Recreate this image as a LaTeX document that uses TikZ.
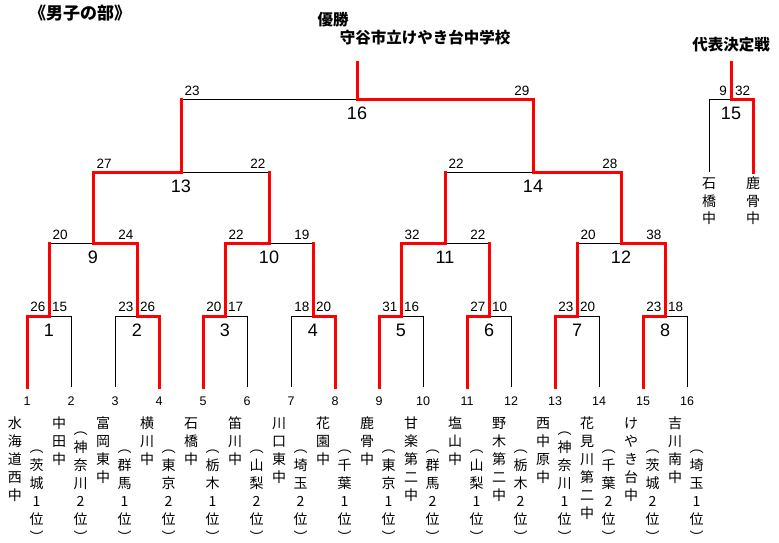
\documentclass[tikz,border=0pt]{standalone}
\usepackage{fontspec}
\newfontfamily\jp{Noto Sans CJK JP}
\newfontfamily\numf{Liberation Sans}
\begin{document}
\begin{tikzpicture}[x=1pt,y=-1pt,
  win/.style={draw=red,line width=3pt,line cap=rect},
  lose/.style={draw=black,line width=1pt},
  col/.style={font=\jp\fontsize{14}{18}\selectfont,align=center,anchor=base,inner sep=0pt},
  colb/.style={font=\jp\fontsize{14}{17.5}\selectfont,align=center,anchor=base,inner sep=0pt},
  mnum/.style={font=\numf\fontsize{18}{18}\selectfont,inner sep=0pt},
  sc/.style={font=\numf\fontsize{13.5}{13.5}\selectfont,inner sep=0pt},
  lnum/.style={font=\numf\fontsize{12.5}{12.5}\selectfont,inner sep=0pt},
  hd/.style={font=\jp\bfseries\fontsize{15.5}{15.5}\selectfont,inner sep=0pt}]
\useasboundingbox (0,0) rectangle (779,542);
% leaves
\foreach \i in {1,...,16} {
  \coordinate (L\i) at ({27+44*(\i-1)},387);
  \node[lnum] (n\i) at ({27+44*(\i-1)},401) {\i};
}
% match points
\coordinate (M1) at (49,316);  \coordinate (M2) at (137,316);
\coordinate (M3) at (225,316); \coordinate (M4) at (313,316);
\coordinate (M5) at (401,316); \coordinate (M6) at (489,316);
\coordinate (M7) at (577,316); \coordinate (M8) at (665,316);
\coordinate (M9) at (93,243);  \coordinate (M10) at (269,243);
\coordinate (M11) at (445,243); \coordinate (M12) at (621,243);
\coordinate (M13) at (181,172); \coordinate (M14) at (533,172);
\coordinate (M16) at (357,99);  \coordinate (W) at (357,62);
\coordinate (M15) at (731,99);  \coordinate (R) at (731,62);
\coordinate (A) at (709,172);   \coordinate (B) at (753,172);
% losing lines
\draw[lose] (L2) |- (M1);  \draw[lose] (L3) |- (M2);
\draw[lose] (L6) |- (M3);  \draw[lose] (L7) |- (M4);
\draw[lose] (L10) |- (M5); \draw[lose] (L12) |- (M6);
\draw[lose] (L14) |- (M7); \draw[lose] (L16) |- (M8);
\draw[lose] (M1 |- M9) -- (M9);
\draw[lose] (M4 |- M10) -- (M10);
\draw[lose] (M6 |- M11) -- (M11);
\draw[lose] (M7 |- M12) -- (M12);
\draw[lose] (M10 |- M13) -- (M13);
\draw[lose] (M11 |- M14) -- (M14);
\draw[lose] (M13 |- M16) -- (M16);
\draw[lose] (A) |- (M15);
% winning lines
\draw[win] (L1) |- (M1);  \draw[win] (L4) |- (M2);
\draw[win] (L5) |- (M3);  \draw[win] (L8) |- (M4);
\draw[win] (L9) |- (M5);  \draw[win] (L11) |- (M6);
\draw[win] (L13) |- (M7); \draw[win] (L15) |- (M8);
\draw[win] (M2) |- (M9);  \draw[win] (M1) -- (M1 |- M9);
\draw[win] (M3) |- (M10); \draw[win] (M4) -- (M4 |- M10);
\draw[win] (M5) |- (M11); \draw[win] (M6) -- (M6 |- M11);
\draw[win] (M8) |- (M12); \draw[win] (M7) -- (M7 |- M12);
\draw[win] (M9) |- (M13); \draw[win] (M10) -- (M10 |- M13);
\draw[win] (M12) |- (M14); \draw[win] (M11) -- (M11 |- M14);
\draw[win] (M14) |- (M16); \draw[win] (M13) -- (M13 |- M16);
\draw[win] (M16) -- (W);
\draw[win] (B) |- (M15); \draw[win] (M15) -- (R);
% match numbers
\node[mnum] (m1) at (49,330) {1};   \node[mnum] (m2) at (137,330) {2};
\node[mnum] (m3) at (225,330) {3};  \node[mnum] (m4) at (313,330) {4};
\node[mnum] (m5) at (401,330) {5};  \node[mnum] (m6) at (489,330) {6};
\node[mnum] (m7) at (577,330) {7};  \node[mnum] (m8) at (665,330) {8};
\node[mnum] (m9) at (93,257) {9};   \node[mnum] (m10) at (269,257) {10};
\node[mnum] (m11) at (445,257) {11}; \node[mnum] (m12) at (621,257) {12};
\node[mnum] (m13) at (181,186) {13}; \node[mnum] (m14) at (533,186) {14};
\node[mnum] (m16) at (357,113) {16}; \node[mnum] (m15) at (731,113) {15};
% scores round 1
\node[sc,anchor=east] (s1a) at (45.5,307) {26};  \node[sc,anchor=west] (s1b) at (52,307) {15};
\node[sc,anchor=east] (s2a) at (133.5,307) {23}; \node[sc,anchor=west] (s2b) at (140,307) {26};
\node[sc,anchor=east] (s3a) at (221.5,307) {20}; \node[sc,anchor=west] (s3b) at (228,307) {17};
\node[sc,anchor=east] (s4a) at (309.5,307) {18}; \node[sc,anchor=west] (s4b) at (316,307) {20};
\node[sc,anchor=east] (s5a) at (397.5,307) {31}; \node[sc,anchor=west] (s5b) at (404,307) {16};
\node[sc,anchor=east] (s6a) at (485.5,307) {27}; \node[sc,anchor=west] (s6b) at (492,307) {10};
\node[sc,anchor=east] (s7a) at (573.5,307) {23}; \node[sc,anchor=west] (s7b) at (580,307) {20};
\node[sc,anchor=east] (s8a) at (661.5,307) {23}; \node[sc,anchor=west] (s8b) at (668,307) {18};
% scores round 2
\node[sc,anchor=west] (s9a) at (52.5,234.5) {20};   \node[sc,anchor=east] (s9b) at (133.5,234.5) {24};
\node[sc,anchor=west] (s10a) at (228.5,234.5) {22}; \node[sc,anchor=east] (s10b) at (309.5,234.5) {19};
\node[sc,anchor=west] (s11a) at (404.5,234.5) {32}; \node[sc,anchor=east] (s11b) at (485.5,234.5) {22};
\node[sc,anchor=west] (s12a) at (580.5,234.5) {20}; \node[sc,anchor=east] (s12b) at (661.5,234.5) {38};
% scores round 3
\node[sc,anchor=west] (s13a) at (96.5,163.5) {27};  \node[sc,anchor=east] (s13b) at (265.5,163.5) {22};
\node[sc,anchor=west] (s14a) at (448.5,163.5) {22}; \node[sc,anchor=east] (s14b) at (617.5,163.5) {28};
% final
\node[sc,anchor=west] (s16a) at (184.5,90.5) {23};  \node[sc,anchor=east] (s16b) at (529.5,90.5) {29};
\node[sc,anchor=east] (s15a) at (727,90.5) {9};     \node[sc,anchor=west] (s15b) at (735,90.5) {32};
% headings
\node[font=\jp\bfseries\fontsize{17}{17}\selectfont,inner sep=0pt] (title) at (80,13) {《男子の部》};
\node[hd] (yusho) at (333,20) {優勝};
\node[hd] (champ) at (425,38) {守谷市立けやき台中学校};
\node[hd] (rep) at (731,45) {代表決定戦};
\node[colb] (a1) at (709,223.6) {石\\橋\\中};
\node[colb] (b1) at (753,223.6) {鹿\\骨\\中};
% team names (anchor = baseline of last line)
\node[col] (t1) at (15,500.6) {水\\海\\道\\西\\中};
\node[col] (p1) at (36.5,542) {︵\\茨\\城\\1\\位\\︶};
\node[col] (t2) at (59,464.6) {中\\田\\中};
\node[col] (p2) at (80.5,542) {︵\\神\\奈\\川\\2\\位\\︶};
\node[col] (t3) at (103,482.6) {富\\岡\\東\\中};
\node[col] (p3) at (124.5,542) {︵\\群\\馬\\1\\位\\︶};
\node[col] (t4) at (147,464.6) {横\\川\\中};
\node[col] (p4) at (168.5,542) {︵\\東\\京\\2\\位\\︶};
\node[col] (t5) at (191,464.6) {石\\橋\\中};
\node[col] (p5) at (212.5,542) {︵\\栃\\木\\1\\位\\︶};
\node[col] (t6) at (235,464.6) {笛\\川\\中};
\node[col] (p6) at (256.5,542) {︵\\山\\梨\\2\\位\\︶};
\node[col] (t7) at (279,482.6) {川\\口\\東\\中};
\node[col] (p7) at (300.5,542) {︵\\埼\\玉\\2\\位\\︶};
\node[col] (t8) at (323,464.6) {花\\園\\中};
\node[col] (p8) at (344.5,542) {︵\\千\\葉\\1\\位\\︶};
\node[col] (t9) at (367,464.6) {鹿\\骨\\中};
\node[col] (p9) at (388.5,542) {︵\\東\\京\\1\\位\\︶};
\node[col] (t10) at (411,500.6) {甘\\楽\\第\\二\\中};
\node[col] (p10) at (432.5,542) {︵\\群\\馬\\2\\位\\︶};
\node[col] (t11) at (455,464.6) {塩\\山\\中};
\node[col] (p11) at (476.5,542) {︵\\山\\梨\\1\\位\\︶};
\node[col] (t12) at (499,500.6) {野\\木\\第\\二\\中};
\node[col] (p12) at (520.5,542) {︵\\栃\\木\\2\\位\\︶};
\node[col] (t13) at (543,482.6) {西\\中\\原\\中};
\node[col] (p13) at (564.5,542) {︵\\神\\奈\\川\\1\\位\\︶};
\node[col] (t14) at (587,518.6) {花\\見\\川\\第\\二\\中};
\node[col] (p14) at (608.5,542) {︵\\千\\葉\\2\\位\\︶};
\node[col] (t15) at (631,500.6) {け\\や\\き\\台\\中};
\node[col] (p15) at (652.5,542) {︵\\茨\\城\\2\\位\\︶};
\node[col] (t16) at (675,482.6) {吉\\川\\南\\中};
\node[col] (p16) at (696.5,542) {︵\\埼\\玉\\1\\位\\︶};
\end{tikzpicture}
\end{document}
